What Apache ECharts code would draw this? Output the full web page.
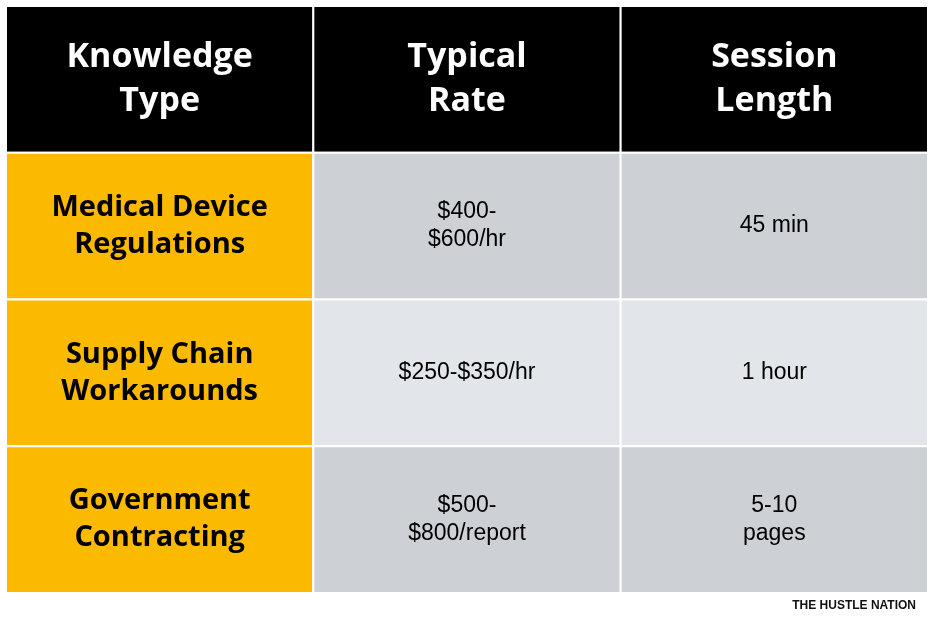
<!DOCTYPE html>
<html>
<head>
<meta charset="utf-8">
<script src="https://cdn.jsdelivr.net/npm/echarts@6/dist/echarts.min.js"></script>
<style>html,body{margin:0;padding:0;background:#fff}#chart{width:936px;height:623px}</style>
</head>
<body>
<div id="chart"></div>
<script>
var columns = ['Knowledge\nType', 'Typical\nRate', 'Session\nLength'];
var knowledgeTypes = ['Medical Device\nRegulations', 'Supply Chain\nWorkarounds', 'Government\nContracting'];
var typicalRates = ['$400-\n$600/hr', '$250-$350/hr', '$500-\n$800/report'];
var sessionLengths = ['45 min', '1 hour', '5-10\npages'];

var rows = ['header'].concat(knowledgeTypes);
var cells = [];
columns.forEach(function (c, i) { cells.push([i, 0, c, 'head']); });
knowledgeTypes.forEach(function (k, r) {
    cells.push([0, r + 1, k, 'key']);
    cells.push([1, r + 1, typicalRates[r], r === 1 ? 'light' : 'gray']);
    cells.push([2, r + 1, sessionLengths[r], r === 1 ? 'light' : 'gray']);
});

var fills = { head: '#000000', key: '#FBBA00', gray: '#CDD0D5', light: '#E2E5E9' };

var chart = echarts.init(document.getElementById('chart'), null, { renderer: 'canvas' });
var option = {
    animation: false,
    grid: { left: 6, right: 8, top: 6, bottom: 30 },
    xAxis: { type: 'category', data: columns, show: false },
    yAxis: { type: 'category', data: rows, inverse: true, show: false },
    graphic: [{
        type: 'text', right: 20, top: 600,
        style: { text: 'THE HUSTLE NATION', font: 'bold 12px "Liberation Sans Narrow", "Liberation Sans", sans-serif', fill: '#111' }
    }],
    series: [{
        type: 'custom',
        data: cells,
        renderItem: function (params, api) {
            var p = api.coord([api.value(0), api.value(1)]);
            var s = api.size([1, 1]);
            var d = cells[params.dataIndex];
            var kind = d[3];
            var bold = kind === 'head' || kind === 'key';
            return {
                type: 'group',
                children: [{
                    type: 'rect',
                    shape: { x: p[0] - s[0] / 2, y: p[1] - s[1] / 2, width: s[0], height: s[1] },
                    style: { fill: fills[kind], stroke: '#ffffff', lineWidth: 2 }
                }, {
                    type: 'text',
                    x: p[0], y: p[1],
                    style: {
                        text: d[2],
                        align: 'center', verticalAlign: 'middle',
                        fill: kind === 'head' ? '#ffffff' : '#000000',
                        font: bold
                            ? (kind === 'head' ? 'bold 34px' : 'bold 29px') + ' "Open Sans", Lato, sans-serif'
                            : '23px "Liberation Sans", Arial, sans-serif',
                        lineHeight: kind === 'head' ? 44 : (bold ? 37 : 28)
                    }
                }]
            };
        }
    }]
};
chart.setOption(option);
window.addEventListener('resize', chart.resize);
</script>
</body>
</html>
